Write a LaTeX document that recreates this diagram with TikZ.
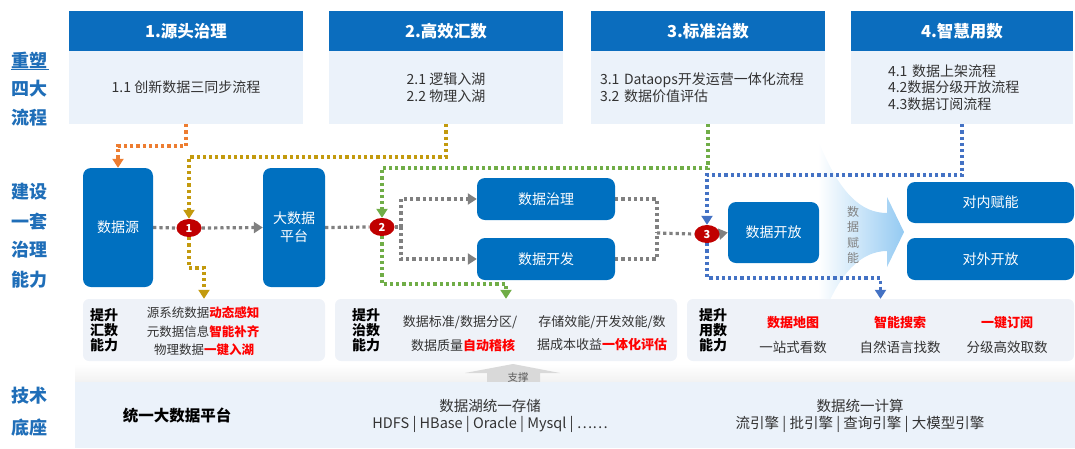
\documentclass[tikz,border=0pt]{standalone}
\usepackage{fontspec}
\setmainfont{Noto Sans CJK SC}
\usetikzlibrary{arrows.meta,shapes.geometric}
\definecolor{hdrblue}{HTML}{0B6DBE}
\definecolor{boxblue}{HTML}{0070C0}
\definecolor{lightbg}{HTML}{EBF2FA}
\definecolor{capbg}{HTML}{EEF2F8}
\definecolor{lblblue}{HTML}{1F6EB8}
\definecolor{dgray}{HTML}{808080}
\definecolor{dgold}{HTML}{C39A0E}
\definecolor{dgreen}{HTML}{70AD47}
\definecolor{dorange}{HTML}{ED7D31}
\definecolor{dblue}{HTML}{4472C4}
\definecolor{cred}{HTML}{C00000}
\definecolor{hired}{HTML}{FF0000}
\definecolor{txt}{HTML}{333333}
\definecolor{arrowblue}{HTML}{94CAF2}
\definecolor{supgray}{HTML}{D9D9D9}
\pgfdeclarelayer{back}
\pgfdeclarelayer{lines}
\pgfsetlayers{back,lines,main}
\begin{document}
\begin{tikzpicture}[x=1pt,y=-1pt,
 hdr/.style={fill=hdrblue, text=white, font=\fontsize{16.5}{19}\selectfont\bfseries, minimum width=234pt, minimum height=40pt, inner sep=0pt},
 body/.style={fill=lightbg, text=txt, font=\fontsize{14}{17}\selectfont, minimum width=234pt, minimum height=73pt, inner sep=0pt},
 bbox/.style={fill=boxblue, rounded corners=8pt, text=white, font=\fontsize{14}{18}\selectfont, inner sep=0pt, align=center},
 num/.style={ellipse, fill=cred, text=white, font=\fontsize{11}{12}\selectfont\bfseries, minimum width=25pt, minimum height=18pt, inner sep=0pt},
 dotline/.style={line width=3.2pt, dash pattern=on 3.2pt off 3pt},
 tip/.style={-{Triangle[width=11pt,length=9pt]}},
 capbox/.style={fill=capbg, rounded corners=6pt, inner sep=0pt},
 captitle/.style={font=\fontsize{14}{15}\selectfont\bfseries, align=center, text=black},
 captext/.style={font=\fontsize{12.5}{15}\selectfont, text=txt},
 side/.style={font=\fontsize{18}{20}\selectfont\bfseries, text=lblblue, inner sep=1pt},
]
\useasboundingbox (0,0) rectangle (1075,448);

% side labels
\node[side] (l1) at (30,60) {重塑};
\draw[lblblue, line width=0.9pt] (l1.south west) -- (l1.south east);
\node[side] (l2) at (30,89) {四大};
\node[side] (l3) at (30,118) {流程};
\node[side] (l4) at (30,192) {建设};
\node[side] (l5) at (30,222) {一套};
\node[side] (l6) at (30,250) {治理};
\node[side] (l7) at (30,280) {能力};
\node[side] (l8) at (30,396) {技术};
\node[side] (l9) at (30,428) {底座};

% top process boxes
\node[hdr] (h1) at (186,31) {1.源头治理};
\node[body] (b1) at (186,87.5) {1.1 创新数据三同步流程};
\node[hdr] (h2) at (446,31) {2.高效汇数};
\node[body, align=center] (b2) at (446,87.5) {2.1 逻辑入湖\\2.2 物理入湖};
\node[hdr] (h3) at (708,31) {3.标准治数};
\node[body, align=left, text width=216pt] (b3) at (708,87.5) {3.1 Dataops开发运营一体化流程\\3.2 数据价值评估};
\node[hdr, minimum width=222pt] (h4) at (962,31) {4.智慧用数};
\node[body, minimum width=222pt, align=left, text width=148pt, font=\fontsize{14}{16.5}\selectfont] (b4) at (962,87.5) {4.1 数据上架流程\\4.2数据分级开放流程\\4.3数据订阅流程};

% middle boxes
\node[bbox, minimum width=70pt, minimum height=119pt] (src) at (118,227.5) {数据源};
\node[bbox, minimum width=62pt, minimum height=119pt] (bdp) at (294,227.5) {大数据\\平台};
\node[bbox, minimum width=138pt, minimum height=42pt] (gov) at (546,199) {数据治理};
\node[bbox, minimum width=138pt, minimum height=42pt] (dev) at (546,259) {数据开发};
\node[bbox, minimum width=91pt, minimum height=61pt] (open) at (773.5,232.5) {数据开放};
\node[bbox, minimum width=167pt, minimum height=41pt] (inn) at (990.5,202.5) {对内赋能};
\node[bbox, minimum width=167pt, minimum height=42pt] (outx) at (990.5,259) {对外开放};

\node[num] (c1) at (189,228) {1};
\node[num] (c2) at (382,227) {2};
\node[num] (c3) at (707,234) {3};

% capability boxes
\node[capbox, minimum width=242pt, minimum height=62pt] (capA) at (204,330) {};
\node[capbox, minimum width=342pt, minimum height=62pt] (capB) at (506,330) {};
\node[capbox, minimum width=387pt, minimum height=62pt] (capC) at (880.5,330) {};

% big empowerment arrow
\begin{pgfonlayer}{back}
\shade[left color=white, right color=arrowblue, shading angle=90]
 (818,140) .. controls (840,195) and (862,213) .. (887,213) -- (887,197) -- (904,232) -- (887,267) -- (887,251) .. controls (862,251) and (843,272) .. (830,300) -- (818,300) -- cycle;
\shade[top color=white, bottom color=supgray!35] (75,364) rectangle (1075,382);
\end{pgfonlayer}
\node[text=dgray, font=\fontsize{12}{15.5}\selectfont, align=center, inner sep=0pt] (emp) at (853,235) {数\\据\\赋\\能};

% connectors
\begin{pgfonlayer}{lines}
\coordinate (split) at (401,227);
\coordinate (merge) at (657,233);
\draw[dotline, dgray] (src.east) -- (c1.west);
\draw[dotline, dgray, tip] (c1.east) -- (bdp.west);
\draw[dotline, dgray] (bdp.east) -- (c2.west);
\draw[dotline, dgray] (c2.east) -- (split);
\draw[dotline, dgray, tip] (split) |- (gov.west);
\draw[dotline, dgray, tip] (split) |- (dev.west);
\draw[dotline, dgray] (gov.east) -| (merge);
\draw[dotline, dgray] (dev.east) -| (merge);
\draw[dotline, dgray] (merge) -- (c3.west);
\draw[dotline, dgray, tip] (c3.east) -- (open.west);

\draw[dotline, dorange, tip] (b1.south) -- (186,146) -| (src.north);
\draw[dotline, dgold, tip] (b2.south) -- (446,157) -| (c1.north);
\draw[dotline, dgold, tip] (c1.south) -- (189,268) -| (capA.north);
\draw[dotline, dgreen, tip] (b3.south) -- (708,168) -| (c2.north);
\draw[dotline, dgreen, tip] (c2.south) -- (382,284) -| (capB.north);
\draw[dotline, dblue, tip] (b4.south) -- (962,175) -| (c3.north);
\draw[dotline, dblue, tip] (c3.south) -- (707,278) -| (capC.north);
\end{pgfonlayer}

% capability A
\node[captitle] (tA) at (104,330) {提升\\汇数\\能力};
\node[captext] (a1) at (203,313) {源系统数据\textcolor{hired}{\bfseries 动态感知}};
\node[captext] (a2) at (203,331.5) {元数据信息\textcolor{hired}{\bfseries 智能补齐}};
\node[captext] (a3) at (204,350) {物理数据\textcolor{hired}{\bfseries 一键入湖}};

% capability B
\node[captitle] (tB) at (366,330) {提升\\治数\\能力};
\node[captext, font=\fontsize{13}{15}\selectfont] (bb1) at (460,322) {数据标准/数据分区/};
\node[captext, font=\fontsize{13}{15}\selectfont] (bb2) at (463,345) {数据质量\textcolor{hired}{\bfseries 自动稽核}};
\node[captext, font=\fontsize{13}{15}\selectfont] (bb3) at (602,322) {存储效能/开发效能/数};
\node[captext, font=\fontsize{13}{15}\selectfont] (bb4) at (602,345) {据成本收益\textcolor{hired}{\bfseries 一体化评估}};

% capability C
\node[captitle] (tC) at (713,330) {提升\\用数\\能力};
\node[captext, font=\fontsize{13}{15}\selectfont\bfseries, text=hired] (cc1) at (793,323) {数据地图};
\node[captext, font=\fontsize{13.5}{15}\selectfont] (cc2) at (793,347) {一站式看数};
\node[captext, font=\fontsize{13}{15}\selectfont\bfseries, text=hired] (cc3) at (900,323) {智能搜索};
\node[captext, font=\fontsize{13.5}{15}\selectfont] (cc4) at (900,347) {自然语言找数};
\node[captext, font=\fontsize{13}{15}\selectfont\bfseries, text=hired] (cc5) at (1007,323) {一键订阅};
\node[captext, font=\fontsize{13.5}{15}\selectfont] (cc6) at (1007,347) {分级高效取数};

% support arrow
\fill[supgray] (465,373) -- (513,364) -- (560,373) -- (540,373) -- (540,383) -- (487,383) -- (487,373) -- cycle;
\node[text=txt!80, font=\fontsize{10.5}{12}\selectfont, inner sep=0pt] (sup) at (518,377) {支撑};

% bottom platform
\node[fill=lightbg, minimum width=1000pt, minimum height=66pt, inner sep=0pt] (base) at (575,415) {};
\node[font=\fontsize{15.5}{18}\selectfont\bfseries, text=black] (p0) at (177,415) {统一大数据平台};
\node[font=\fontsize{14.5}{17}\selectfont, text=txt, align=center] (p1) at (490,415.5) {数据湖统一存储\\HDFS | HBase | Oracle | Mysql | ……};
\node[font=\fontsize{14.5}{17}\selectfont, text=txt, align=center] (p2) at (860,415.5) {数据统一计算\\流引擎 | 批引擎 | 查询引擎 | 大模型引擎};
\end{tikzpicture}
\end{document}
